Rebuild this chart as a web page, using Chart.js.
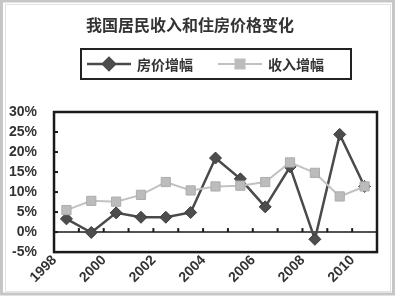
<!DOCTYPE html>
<html>
<head>
<meta charset="utf-8">
<script src="https://cdn.jsdelivr.net/npm/chart.js@4/dist/chart.umd.min.js"></script>
<style>
  html, body { margin: 0; padding: 0; background: #fff; }
  #wrap { width: 400px; height: 300px; }
</style>
</head>
<body>
<div id="wrap"><canvas id="chart"></canvas></div>
<script>
// Data
const years = ["1998", "1999", "2000", "2001", "2002", "2003", "2004", "2005", "2006", "2007", "2008", "2009", "2010"];
const housePrice = [3.3, -0.1, 4.8, 3.7, 3.7, 4.9, 18.5, 13.3, 6.3, 16.3, -1.8, 24.4, 11.4];
const income = [5.5, 7.8, 7.6, 9.3, 12.5, 10.4, 11.4, 11.6, 12.5, 17.4, 14.8, 8.9, 11.4];
const seriesNames = ["房价增幅", "收入增幅"];
const titleText = "我国居民收入和住房价格变化";

const darkColor = "#4a4a4a";
const lightColor = "#c2c2c2";

Chart.defaults.font.family = "'Liberation Sans', 'Noto Sans CJK SC', sans-serif";

// Frame, title and boxed legend drawn around the chart
const decorPlugin = {
    id: "decor",
    beforeDraw(chart) {
        const ctx = chart.ctx;
        ctx.save();
        ctx.fillStyle = "#fff";
        ctx.fillRect(0, 0, chart.width, chart.height);
        // outer grey frame
        ctx.strokeStyle = "#c6c6c6";
        ctx.lineWidth = 3;
        ctx.strokeRect(1.5, 1, 392, 293);
        ctx.strokeStyle = "#e2e2e2";
        ctx.lineWidth = 1;
        ctx.strokeRect(5.5, 4.5, 385, 287);

        // title
        ctx.fillStyle = "#333";
        ctx.font = "bold 16px 'Noto Sans CJK SC', sans-serif";
        ctx.textAlign = "center";
        ctx.textBaseline = "middle";
        ctx.fillText(titleText, 190, 25);

        // legend box
        ctx.strokeStyle = "#222";
        ctx.lineWidth = 2;
        ctx.strokeRect(81, 49, 270, 30);
        ctx.font = "bold 14px 'Noto Sans CJK SC', sans-serif";
        ctx.textAlign = "left";
        const ly = 64;
        const items = [
            { x: 87, ds: chart.data.datasets[0] },
            { x: 218, ds: chart.data.datasets[1] }
        ];
        items.forEach(it => {
            ctx.strokeStyle = it.ds.borderColor;
            ctx.lineWidth = it.ds.borderWidth;
            ctx.beginPath();
            ctx.moveTo(it.x, ly);
            ctx.lineTo(it.x + 44, ly);
            ctx.stroke();
            Chart.helpers.drawPoint(ctx, {
                pointStyle: it.ds.pointStyle,
                radius: it.ds.pointRadius,
                borderWidth: 1
            }, it.x + 22, ly);
            ctx.fillStyle = it.ds.pointBackgroundColor;
            ctx.strokeStyle = it.ds.pointBorderColor;
            ctx.fill();
            ctx.fillStyle = "#333";
            ctx.fillText(it.ds.label, it.x + 50, ly + 1);
        });
        ctx.restore();
    },
    beforeDatasetsDraw(chart) {
        const ctx = chart.ctx;
        const a = chart.chartArea;
        const x = chart.scales.x;
        const y = chart.scales.y;
        ctx.save();
        ctx.strokeStyle = "#1a1a1a";
        // zero line
        const y0 = y.getPixelForValue(0);
        ctx.lineWidth = 1.5;
        ctx.beginPath();
        ctx.moveTo(a.left, y0);
        ctx.lineTo(a.right, y0);
        ctx.stroke();
        // category tick marks on the zero line
        ctx.lineWidth = 2;
        for (let i = 0; i < years.length - 1; i++) {
            const px = (x.getPixelForValue(i) + x.getPixelForValue(i + 1)) / 2;
            ctx.beginPath();
            ctx.moveTo(px, y0);
            ctx.lineTo(px, y0 - 4);
            ctx.stroke();
        }
        // y tick marks pointing inward
        y.ticks.forEach(t => {
            const py = y.getPixelForValue(t.value);
            ctx.beginPath();
            ctx.moveTo(a.left, py);
            ctx.lineTo(a.left + 4, py);
            ctx.stroke();
        });
        // plot border
        ctx.lineWidth = 2.5;
        ctx.strokeRect(a.left, a.top, a.right - a.left, a.bottom - a.top);
        ctx.restore();
    }
};

new Chart(document.getElementById("chart"), {
    type: "line",
    data: {
        labels: years,
        datasets: [{
            label: seriesNames[0],
            data: housePrice,
            borderColor: darkColor,
            borderWidth: 2.5,
            pointStyle: "rectRot",
            pointRadius: 6,
            pointBackgroundColor: "#4d4d4d",
            pointBorderColor: "#3c3c3c",
            pointBorderWidth: 1,
            tension: 0,
            order: 1
        }, {
            label: seriesNames[1],
            data: income,
            borderColor: lightColor,
            borderWidth: 2,
            pointStyle: "rect",
            pointRadius: 6.5,
            pointBackgroundColor: "#bcbcbc",
            pointBorderColor: "#adadad",
            pointBorderWidth: 1,
            tension: 0,
            order: 0
        }]
    },
    options: {
        responsive: true,
        maintainAspectRatio: false,
        animation: false,
        layout: { padding: { top: 112, left: 0, right: 23, bottom: 14 } },
        plugins: {
            legend: { display: false },
            title: { display: false },
            tooltip: { enabled: false }
        },
        scales: {
            x: {
                offset: true,
                grid: { display: false, drawTicks: false },
                border: { display: false },
                ticks: {
                    autoSkip: false,
                    maxRotation: 45,
                    minRotation: 45,
                    color: "#333",
                    font: { size: 14, weight: "bold" },
                    padding: 0,
                    labelOffset: -12,
                    callback: (v, i) => i % 2 === 0 ? years[i] : ""
                }
            },
            y: {
                min: -5,
                max: 30,
                grid: { display: false },
                border: { display: false },
                ticks: {
                    stepSize: 5,
                    autoSkip: false,
                    color: "#333",
                    padding: 9,
                    font: { size: 14, weight: "bold" },
                    callback: v => v + "%"
                }
            }
        }
    },
    plugins: [decorPlugin]
});
</script>
</body>
</html>
